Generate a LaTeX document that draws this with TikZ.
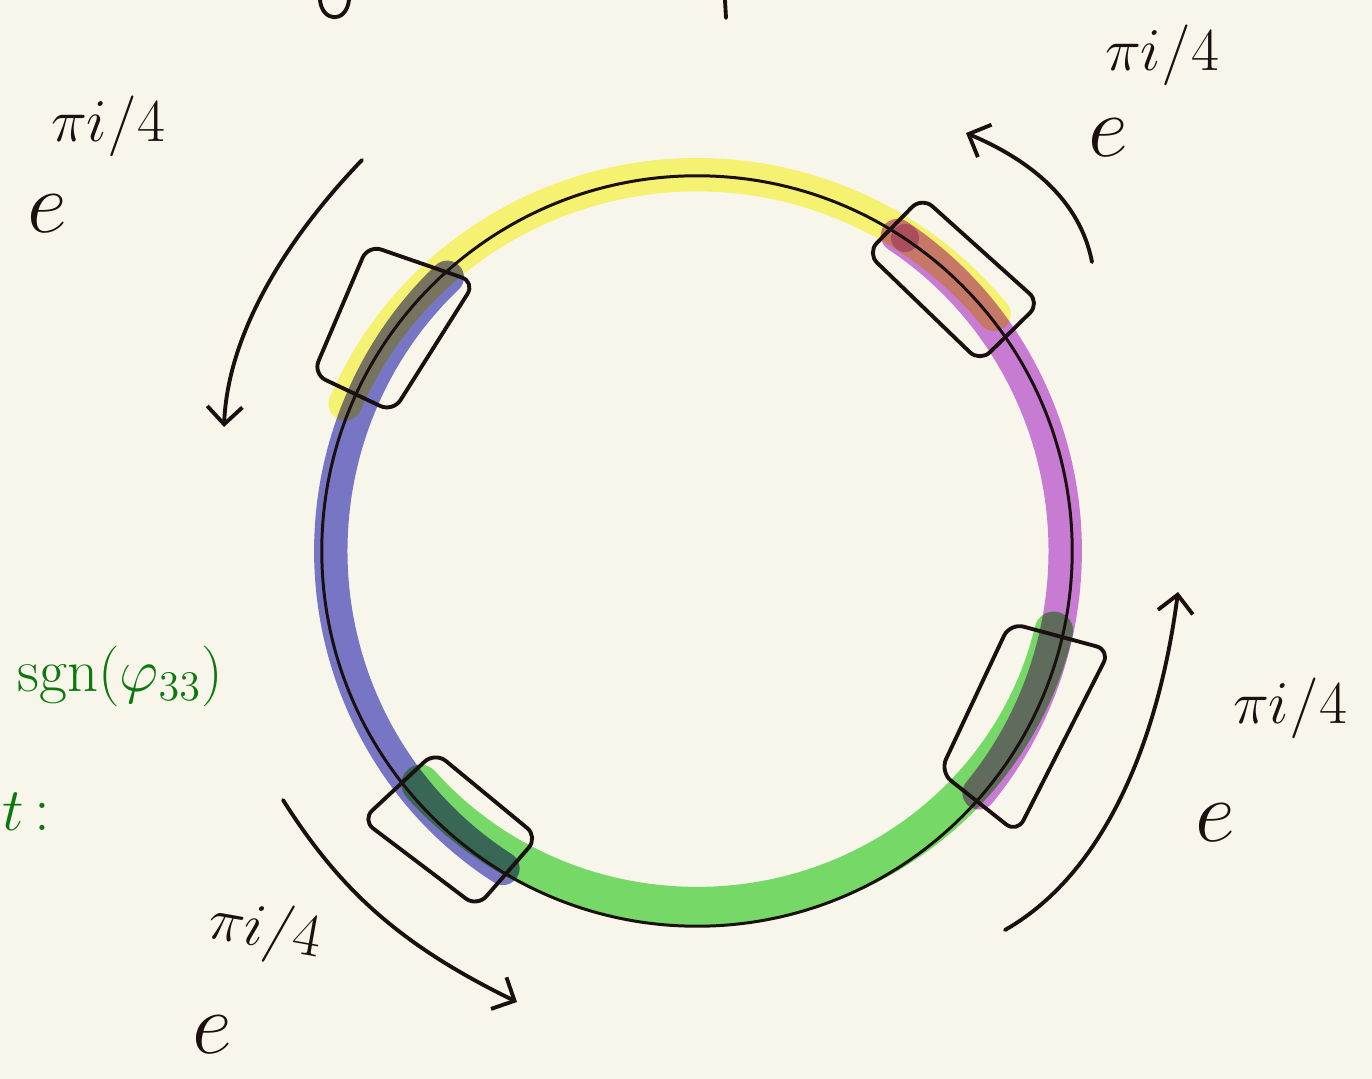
\documentclass[tikz,border=0pt]{standalone}
\usetikzlibrary{arrows.meta}
\definecolor{carta}{HTML}{F8F6EA}
\definecolor{inchiostro}{HTML}{1A1010}
\definecolor{giallo}{HTML}{FCFA7C}
\definecolor{viola}{HTML}{CE80E6}
\definecolor{blu}{HTML}{7B7BD6}
\definecolor{verde}{HTML}{7AE070}
\definecolor{verdescuro}{HTML}{0D780D}
\begin{document}
\begin{tikzpicture}[x=0.01cm,y=-0.01cm,
    ink/.style={draw=inchiostro,line width=1.1pt,line cap=round,line join=round},
    band/.style={line width=9.5pt,line cap=round,blend mode=multiply},
    frame/.style={ink,rounded corners=4pt},
    punta/.style={-{Straight Barb[length=5pt,width=10pt]}},
    esp/.style={text=inchiostro,inner sep=0pt,font=\fontsize{19}{19}\selectfont},
    base/.style={text=inchiostro,inner sep=0pt,font=\fontsize{32}{32}\selectfont},
    nota/.style={text=verdescuro,inner sep=0pt,font=\fontsize{18}{18}\selectfont}]
    \useasboundingbox (0,0) rectangle (1372,1079);
    \fill[carta] (0,0) rectangle (1372,1079);
    \clip (0,0) rectangle (1372,1079);
    \coordinate (C) at (697,551);

    % bande colorate
    \draw[band,giallo] ([shift={(157:3.82cm and 3.76cm)}]C)
        arc[start angle=157,end angle=39,x radius=3.82cm,y radius=3.76cm];
    \draw[band,viola] ([shift={(57:3.68cm and 3.76cm)}]C)
        arc[start angle=57,end angle=-40,x radius=3.68cm,y radius=3.76cm];
    \fill[viola,blend mode=multiply,opacity=0.7] (905,238) circle[radius=0.14cm];
    \draw[band,blu] ([shift={(133:3.66cm and 3.74cm)}]C)
        arc[start angle=133,end angle=238,x radius=3.66cm,y radius=3.74cm];
    \draw[band,verde,line width=11pt] ([shift={(221:3.66cm and 3.55cm)}]C)
        arc[start angle=221,end angle=347,x radius=3.66cm,y radius=3.55cm];

    % cerchio
    \draw[ink,line width=0.85pt] (C) circle[radius=3.75cm];

    % riquadri
    \draw[frame] (313,374) -- (368,245) -- (475,282) -- (393,412) -- cycle;
    \draw[frame] (867,253) -- (922,197) -- (1040,303) -- (980,362) -- cycle;
    \draw[frame] (940,772) -- (1010,623) -- (1110,650) -- (1017,833) -- cycle;
    \draw[frame] (362,820) -- (435,752) -- (538,837) -- (477,907) -- cycle;

    % frecce
    \draw[ink,punta] (362,160) .. controls (290,235) and (228,330) .. (224,427);
    \draw[ink,punta] (1092,262) .. controls (1080,200) and (1030,160) .. (966,133);
    \draw[ink,punta] (1005,930) .. controls (1110,870) and (1160,730) .. (1178,592);
    \draw[ink,punta] (283,800) .. controls (340,890) and (400,945) .. (517,1002);

    % etichette
    \node[base] (eNO) at (47,214) {$e$};
    \node[esp] (xNO) at (108,126) {$\pi i/4$};
    \node[base] (eNE) at (1108,138) {$e$};
    \node[esp] (xNE) at (1162,55) {$\pi i/4$};
    \node[base] (eSE) at (1215,823) {$e$};
    \node[esp] (xSE) at (1290,708) {$\pi i/4$};
    \node[base] (eSO) at (212,1035) {$e$};
    \node[esp,rotate=-10] (xSO) at (265,932) {$\pi i/4$};

    % note a margine
    \node[nota,anchor=east] (sgn) at (224,676) {$\mathrm{sgn}(\varphi_{33})$};
    \node[nota,anchor=west] (due) at (2,812) {$t$\,:};
    \draw[ink] (320,0) .. controls (322,22) and (346,24) .. (349,0);
    \draw[ink] (725,0) -- (726,18);
\end{tikzpicture}
\end{document}
